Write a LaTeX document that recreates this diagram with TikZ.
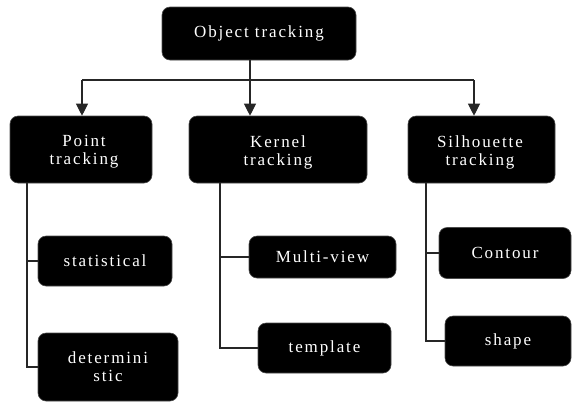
\documentclass[tikz,border=0pt]{standalone}
\usepackage{fontspec}
\setmainfont[LetterSpace=11]{Liberation Serif}
\usetikzlibrary{arrows.meta}
\tikzset{
  label/.style={text=white, align=center, inner sep=0pt,
    font=\fontsize{17}{18}\selectfont},
  box/.style={label, fill=black, draw=black!70, line width=0.6pt, rounded corners=8pt},
  link/.style={draw=black!85, line width=1.1pt},
  tip/.style={link, -{Triangle[width=12pt,length=12pt]}}
}
\begin{document}
\begin{tikzpicture}[x=1pt,y=-1pt]
\useasboundingbox (0,0) rectangle (572,402);

% root and the three families
\node[box, minimum width=194pt, minimum height=53pt] (top) at (259,33.5) {Object tracking};
\node[box, minimum width=142pt, minimum height=67pt] (point) at (81,149.5) {};
\node[box, minimum width=178pt, minimum height=67pt] (kernel) at (278,149.5) {};
\node[box, minimum width=147pt, minimum height=67pt] (sil) at (481.5,149.5) {};
\node[label] (pointt) at (84,152) {Point\\tracking};
\node[label] (kernelt) at (278,152) {Kernel\\tracking};
\node[label] (silt) at (480,152) {Silhouette\\tracking};

% leaves
\node[box, minimum width=134pt, minimum height=50pt] (stat) at (105,261) {statistical};
\node[box, minimum width=140pt, minimum height=68pt] (det) at (108,367) {determini\\stic};
\node[box, minimum width=147pt, minimum height=42pt] (multi) at (322.5,257) {Multi-view};
\node[box, minimum width=133pt, minimum height=50pt] (templ) at (324.5,348) {template};
\node[box, minimum width=132pt, minimum height=51pt] (cont) at (505,253) {Contour};
\node[box, minimum width=126pt, minimum height=50pt] (shape) at (508,341) {shape};

% distribution bar with arrows
\coordinate (pa) at (82,80);
\coordinate (ka) at (250,80);
\coordinate (sa) at (474,80);
\draw[link] (top.south -| ka) -- (ka);
\draw[link] (pa) -- (sa);
\draw[tip] (pa) -- (pa |- point.north);
\draw[tip] (ka) -- (ka |- kernel.north);
\draw[tip] (sa) -- (sa |- sil.north);

% tree lines to the leaves
\coordinate (pv) at (27,0);
\draw[link] (pv |- point.south) -- (pv |- det.west) -- (det.west);
\draw[link] (pv |- stat.west) -- (stat.west);

\coordinate (kv) at (220,0);
\draw[link] (kv |- kernel.south) -- (kv |- templ.west) -- (templ.west);
\draw[link] (kv |- multi.west) -- (multi.west);

\coordinate (sv) at (426,0);
\draw[link] (sv |- sil.south) -- (sv |- shape.west) -- (shape.west);
\draw[link] (sv |- cont.west) -- (cont.west);
\end{tikzpicture}
\end{document}
